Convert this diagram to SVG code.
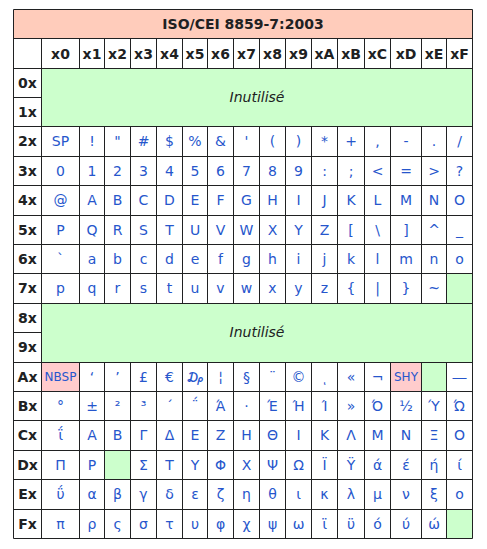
<svg xmlns="http://www.w3.org/2000/svg" width="487" height="549" viewBox="0 0 487 549">
<style>
text{font-family:"DejaVu Sans","Liberation Sans",sans-serif;font-size:14px;text-anchor:middle}
.t{font-weight:bold;fill:#202122}
.h{font-weight:bold;fill:#202122}
.c{fill:#2656cc}
.s{fill:#2656cc;font-size:12px}
.i{font-style:italic;fill:#202122}
.g{fill:#ccffcc}
.p{fill:#ffcccc}
.grid{stroke:#202122;stroke-width:1;fill:none}
</style>
<rect width="487" height="549" fill="#ffffff"/>
<g id="backgrounds">
<rect x="13.5" y="9.5" width="459" height="29" fill="#ffccbb"/>
<rect class="g" x="41.5" y="68.5" width="431" height="58"/>
<rect class="g" x="41.5" y="303.5" width="431" height="59"/>
<rect class="g" x="446.5" y="273.5" width="26" height="30"/>
<rect class="g" x="421.5" y="362.5" width="25" height="29"/>
<rect class="g" x="104.5" y="450.5" width="26" height="29"/>
<rect class="g" x="446.5" y="509.5" width="26" height="29"/>
<rect class="p" x="41.5" y="362.5" width="38" height="29"/>
<rect class="p" x="390.5" y="362.5" width="31" height="29"/>
</g>
<g id="grid" class="grid">
<path d="M13.5 9.5H472.5V538.5H13.5Z"/>
<path d="M13.5 38.5H472.5M13.5 68.5H472.5M13.5 97.5H41.5M13.5 126.5H472.5M13.5 156.5H472.5M13.5 185.5H472.5M13.5 215.5H472.5M13.5 244.5H472.5M13.5 273.5H472.5M13.5 303.5H472.5M13.5 332.5H41.5M13.5 362.5H472.5M13.5 391.5H472.5M13.5 420.5H472.5M13.5 450.5H472.5M13.5 479.5H472.5M13.5 509.5H472.5"/>
<path d="M41.5 38.5V538.5"/>
<path d="M79.5 38.5V68.5M79.5 126.5V303.5M79.5 362.5V538.5
M104.5 38.5V68.5M104.5 126.5V303.5M104.5 362.5V538.5
M130.5 38.5V68.5M130.5 126.5V303.5M130.5 362.5V538.5
M156.5 38.5V68.5M156.5 126.5V303.5M156.5 362.5V538.5
M182.5 38.5V68.5M182.5 126.5V303.5M182.5 362.5V538.5
M207.5 38.5V68.5M207.5 126.5V303.5M207.5 362.5V538.5
M233.5 38.5V68.5M233.5 126.5V303.5M233.5 362.5V538.5
M259.5 38.5V68.5M259.5 126.5V303.5M259.5 362.5V538.5
M285.5 38.5V68.5M285.5 126.5V303.5M285.5 362.5V538.5
M311.5 38.5V68.5M311.5 126.5V303.5M311.5 362.5V538.5
M337.5 38.5V68.5M337.5 126.5V303.5M337.5 362.5V538.5
M364.5 38.5V68.5M364.5 126.5V303.5M364.5 362.5V538.5
M390.5 38.5V68.5M390.5 126.5V303.5M390.5 362.5V538.5
M421.5 38.5V68.5M421.5 126.5V303.5M421.5 362.5V538.5
M446.5 38.5V68.5M446.5 126.5V303.5M446.5 362.5V538.5"/>
</g>
<g id="title"><text class="t" x="243" y="29">ISO/CEI 8859-7:2003</text></g>
<g id="col-headers"><text class="h" y="58.5"><tspan x="60.5">x0</tspan><tspan x="92">x1</tspan><tspan x="117.5">x2</tspan><tspan x="143.5">x3</tspan><tspan x="169.5">x4</tspan><tspan x="195">x5</tspan><tspan x="220.5">x6</tspan><tspan x="246.5">x7</tspan><tspan x="272.5">x8</tspan><tspan x="298.5">x9</tspan><tspan x="324.5">xA</tspan><tspan x="351">xB</tspan><tspan x="377.5">xC</tspan><tspan x="406">xD</tspan><tspan x="434">xE</tspan><tspan x="459.5">xF</tspan></text></g>
<g id="row-headers"><text class="h" x="27.5"><tspan x="27.5" y="87.5">0x</tspan><tspan x="27.5" y="116.5">1x</tspan><tspan x="27.5" y="146">2x</tspan><tspan x="27.5" y="175.5">3x</tspan><tspan x="27.5" y="205">4x</tspan><tspan x="27.5" y="234.5">5x</tspan><tspan x="27.5" y="263.5">6x</tspan><tspan x="27.5" y="293">7x</tspan><tspan x="27.5" y="322.5">8x</tspan><tspan x="27.5" y="352">9x</tspan><tspan x="27.5" y="381.5">Ax</tspan><tspan x="27.5" y="410.5">Bx</tspan><tspan x="27.5" y="440">Cx</tspan><tspan x="27.5" y="469.5">Dx</tspan><tspan x="27.5" y="499">Ex</tspan><tspan x="27.5" y="528.5">Fx</tspan></text></g>
<g id="unused-0x-1x"><text class="i" x="257" y="102">Inutilisé</text></g>
<g id="row-2x"><text class="c" y="146"><tspan x="60.5">SP</tspan><tspan x="92">!</tspan><tspan x="117.5">&quot;</tspan><tspan x="143.5">#</tspan><tspan x="169.5">$</tspan><tspan x="195">%</tspan><tspan x="220.5">&amp;</tspan><tspan x="246.5">&apos;</tspan><tspan x="272.5">(</tspan><tspan x="298.5">)</tspan><tspan x="324.5">*</tspan><tspan x="351">+</tspan><tspan x="377.5">,</tspan><tspan x="406">-</tspan><tspan x="434">.</tspan><tspan x="459.5">/</tspan></text></g>
<g id="row-3x"><text class="c" y="175.5"><tspan x="60.5">0</tspan><tspan x="92">1</tspan><tspan x="117.5">2</tspan><tspan x="143.5">3</tspan><tspan x="169.5">4</tspan><tspan x="195">5</tspan><tspan x="220.5">6</tspan><tspan x="246.5">7</tspan><tspan x="272.5">8</tspan><tspan x="298.5">9</tspan><tspan x="324.5">:</tspan><tspan x="351">;</tspan><tspan x="377.5">&lt;</tspan><tspan x="406">=</tspan><tspan x="434">&gt;</tspan><tspan x="459.5">?</tspan></text></g>
<g id="row-4x"><text class="c" y="205"><tspan x="60.5">@</tspan><tspan x="92">A</tspan><tspan x="117.5">B</tspan><tspan x="143.5">C</tspan><tspan x="169.5">D</tspan><tspan x="195">E</tspan><tspan x="220.5">F</tspan><tspan x="246.5">G</tspan><tspan x="272.5">H</tspan><tspan x="298.5">I</tspan><tspan x="324.5">J</tspan><tspan x="351">K</tspan><tspan x="377.5">L</tspan><tspan x="406">M</tspan><tspan x="434">N</tspan><tspan x="459.5">O</tspan></text></g>
<g id="row-5x"><text class="c" y="234.5"><tspan x="60.5">P</tspan><tspan x="92">Q</tspan><tspan x="117.5">R</tspan><tspan x="143.5">S</tspan><tspan x="169.5">T</tspan><tspan x="195">U</tspan><tspan x="220.5">V</tspan><tspan x="246.5">W</tspan><tspan x="272.5">X</tspan><tspan x="298.5">Y</tspan><tspan x="324.5">Z</tspan><tspan x="351">[</tspan><tspan x="377.5">\</tspan><tspan x="406">]</tspan><tspan x="434">^</tspan><tspan x="459.5">_</tspan></text></g>
<g id="row-6x"><text class="c" y="263.5"><tspan x="60.5">`</tspan><tspan x="92">a</tspan><tspan x="117.5">b</tspan><tspan x="143.5">c</tspan><tspan x="169.5">d</tspan><tspan x="195">e</tspan><tspan x="220.5">f</tspan><tspan x="246.5">g</tspan><tspan x="272.5">h</tspan><tspan x="298.5">i</tspan><tspan x="324.5">j</tspan><tspan x="351">k</tspan><tspan x="377.5">l</tspan><tspan x="406">m</tspan><tspan x="434">n</tspan><tspan x="459.5">o</tspan></text></g>
<g id="row-7x"><text class="c" y="293"><tspan x="60.5">p</tspan><tspan x="92">q</tspan><tspan x="117.5">r</tspan><tspan x="143.5">s</tspan><tspan x="169.5">t</tspan><tspan x="195">u</tspan><tspan x="220.5">v</tspan><tspan x="246.5">w</tspan><tspan x="272.5">x</tspan><tspan x="298.5">y</tspan><tspan x="324.5">z</tspan><tspan x="351">{</tspan><tspan x="377.5">|</tspan><tspan x="406">}</tspan><tspan x="434">~</tspan></text></g>
<g id="unused-8x-9x"><text class="i" x="257" y="337">Inutilisé</text></g>
<g id="row-Ax"><text class="s" y="381"><tspan x="60.5">NBSP</tspan><tspan x="406">SHY</tspan></text><text class="c" y="381.5"><tspan x="92">‘</tspan><tspan x="117.5">’</tspan><tspan x="143.5">£</tspan><tspan x="169.5">€</tspan><tspan x="195">₯</tspan><tspan x="220.5">¦</tspan><tspan x="246.5">§</tspan><tspan x="272.5">¨</tspan><tspan x="298.5">©</tspan><tspan x="324.5">ͺ</tspan><tspan x="351">«</tspan><tspan x="377.5">¬</tspan><tspan x="459.5">―</tspan></text></g>
<g id="row-Bx"><text class="c" y="410.5"><tspan x="60.5">°</tspan><tspan x="92">±</tspan><tspan x="117.5">²</tspan><tspan x="143.5">³</tspan><tspan x="169.5">΄</tspan><tspan x="195">΅</tspan><tspan x="220.5">Ά</tspan><tspan x="246.5">·</tspan><tspan x="272.5">Έ</tspan><tspan x="298.5">Ή</tspan><tspan x="324.5">Ί</tspan><tspan x="351">»</tspan><tspan x="377.5">Ό</tspan><tspan x="406">½</tspan><tspan x="434">Ύ</tspan><tspan x="459.5">Ώ</tspan></text></g>
<g id="row-Cx"><text class="c" y="440"><tspan x="60.5">ΐ</tspan><tspan x="92">Α</tspan><tspan x="117.5">Β</tspan><tspan x="143.5">Γ</tspan><tspan x="169.5">Δ</tspan><tspan x="195">Ε</tspan><tspan x="220.5">Ζ</tspan><tspan x="246.5">Η</tspan><tspan x="272.5">Θ</tspan><tspan x="298.5">Ι</tspan><tspan x="324.5">Κ</tspan><tspan x="351">Λ</tspan><tspan x="377.5">Μ</tspan><tspan x="406">Ν</tspan><tspan x="434">Ξ</tspan><tspan x="459.5">Ο</tspan></text></g>
<g id="row-Dx"><text class="c" y="469.5"><tspan x="60.5">Π</tspan><tspan x="92">Ρ</tspan><tspan x="143.5">Σ</tspan><tspan x="169.5">Τ</tspan><tspan x="195">Υ</tspan><tspan x="220.5">Φ</tspan><tspan x="246.5">Χ</tspan><tspan x="272.5">Ψ</tspan><tspan x="298.5">Ω</tspan><tspan x="324.5">Ϊ</tspan><tspan x="351">Ϋ</tspan><tspan x="377.5">ά</tspan><tspan x="406">έ</tspan><tspan x="434">ή</tspan><tspan x="459.5">ί</tspan></text></g>
<g id="row-Ex"><text class="c" y="499"><tspan x="60.5">ΰ</tspan><tspan x="92">α</tspan><tspan x="117.5">β</tspan><tspan x="143.5">γ</tspan><tspan x="169.5">δ</tspan><tspan x="195">ε</tspan><tspan x="220.5">ζ</tspan><tspan x="246.5">η</tspan><tspan x="272.5">θ</tspan><tspan x="298.5">ι</tspan><tspan x="324.5">κ</tspan><tspan x="351">λ</tspan><tspan x="377.5">μ</tspan><tspan x="406">ν</tspan><tspan x="434">ξ</tspan><tspan x="459.5">ο</tspan></text></g>
<g id="row-Fx"><text class="c" y="528.5"><tspan x="60.5">π</tspan><tspan x="92">ρ</tspan><tspan x="117.5">ς</tspan><tspan x="143.5">σ</tspan><tspan x="169.5">τ</tspan><tspan x="195">υ</tspan><tspan x="220.5">φ</tspan><tspan x="246.5">χ</tspan><tspan x="272.5">ψ</tspan><tspan x="298.5">ω</tspan><tspan x="324.5">ϊ</tspan><tspan x="351">ϋ</tspan><tspan x="377.5">ό</tspan><tspan x="406">ύ</tspan><tspan x="434">ώ</tspan></text></g>
</svg>
